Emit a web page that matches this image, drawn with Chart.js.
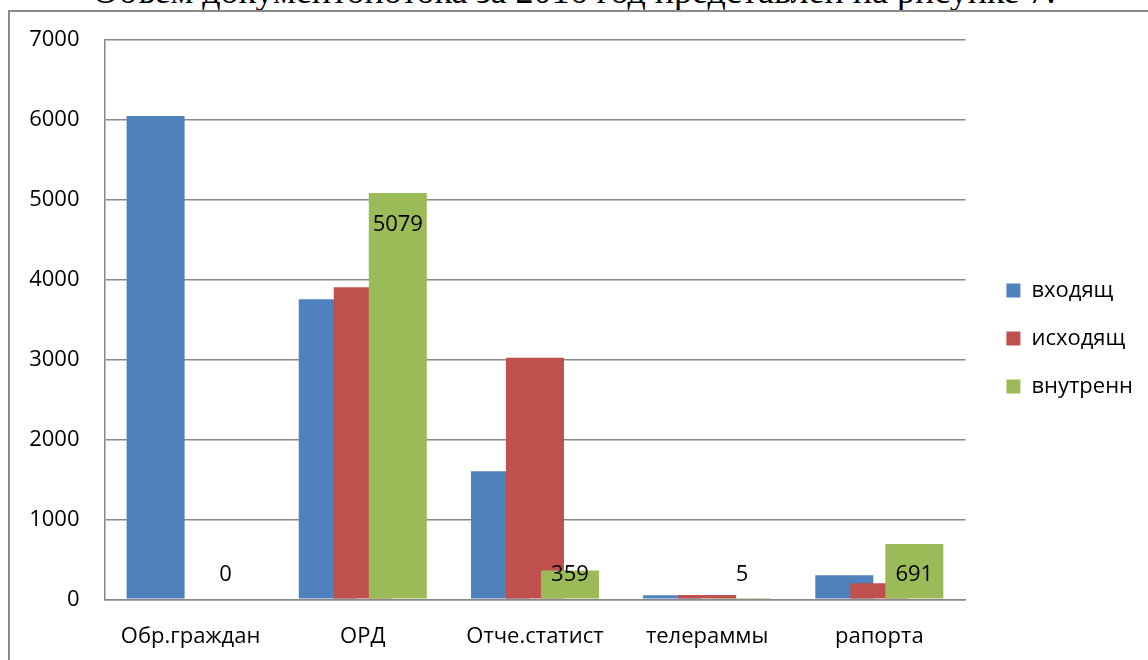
<!DOCTYPE html>
<html>
<head>
<meta charset="utf-8">
<script src="https://cdn.jsdelivr.net/npm/chart.js@4/dist/chart.umd.min.js"></script>
<style>
    body { margin: 0; background: #fff; overflow: hidden; }
    #wrap { position: relative; width: 1148px; height: 660px; overflow: hidden; }
    #caption {
        position: absolute; left: 0; top: -27px; width: 1148px;
        text-align: center; white-space: nowrap;
        font: 36px/36px "Liberation Serif", serif; color: #000;
    }
    #frame {
        position: absolute; left: 8px; top: 10px; width: 1200px; height: 700px;
        border: 2px solid #8a8a8a;
    }
    #chart { position: absolute; left: 0; top: 0; }
</style>
</head>
<body>
<div id="wrap">
    <div id="caption">Объем документопотока за 2016 год представлен на рисунке 7.</div>
    <div id="frame"></div>
    <canvas id="chart" width="1148" height="660"></canvas>
</div>
<script>
// Chart data
const categories = ['Обр.граждан', 'ОРД', 'Отче.статист', 'телераммы', 'рапорта'];
const seriesNames = ['входящ', 'исходящ', 'внутренн'];
const incoming = [6040, 3750, 1600, 50, 300];
const outgoing = [0, 3900, 3020, 55, 200];
const internal = [0, 5079, 359, 5, 691];
const yTicks = [0, 1000, 2000, 3000, 4000, 5000, 6000, 7000];

const colors = ['#4F81BD', '#C0504D', '#9BBB59'];
const fontFamily = '"Open Sans", sans-serif';

Chart.defaults.color = '#000';
Chart.defaults.font.family = fontFamily;
Chart.defaults.font.size = 22;

// Excel overlaps the bars with the later series on top,
// Chart.js paints dataset 0 last, so paint them ourselves in index order
const paintInOrder = {
    id: 'paintInOrder',
    beforeDatasetDraw() { return false; },
    afterDatasetsDraw(chart) {
        chart.data.datasets.forEach((ds, i) => {
            chart.getDatasetMeta(i).controller.draw();
        });
    }
};

// value labels for the green series (Excel "inside end" look)
const greenLabels = {
    id: 'greenLabels',
    afterDatasetsDraw(chart) {
        const ctx = chart.ctx;
        const meta = chart.getDatasetMeta(2);
        const base = chart.scales.y.getPixelForValue(0);
        ctx.save();
        ctx.font = '22px ' + fontFamily;
        ctx.fillStyle = '#000';
        ctx.textAlign = 'center';
        ctx.textBaseline = 'middle';
        meta.data.forEach((bar, i) => {
            const y = Math.min(bar.y + 32, base - 25);
            ctx.fillText(String(internal[i]), bar.x, y);
        });
        ctx.restore();
    }
};

// invisible spacer axis: keeps the plot clear of a box
function spacer(position, size) {
    return {
        position: position,
        grid: { display: false },
        border: { display: false },
        ticks: { display: false },
        afterFit(scale) {
            if (position === 'right') scale.width = size;
            else scale.height = size;
        }
    };
}

new Chart(document.getElementById('chart'), {
    type: 'bar',
    data: {
        labels: categories,
        datasets: [
            { label: seriesNames[0], data: incoming, backgroundColor: colors[0] },
            { label: seriesNames[1], data: outgoing, backgroundColor: colors[1] },
            { label: seriesNames[2], data: internal, backgroundColor: colors[2] }
        ]
    },
    options: {
        responsive: false,
        animation: false,
        devicePixelRatio: 1,
        categoryPercentage: 0.61,
        barPercentage: 1.657,
        layout: { padding: { top: 17, bottom: 0, left: 0, right: 5 } },
        scales: {
            x: {
                grid: { display: false },
                border: { color: '#888', width: 1.5 },
                ticks: { padding: 16.7, maxRotation: 0 },
                afterFit(scale) { scale.height = 60.7; }
            },
            y: {
                min: 0,
                max: 7000,
                afterBuildTicks(scale) { scale.ticks = yTicks.map(v => ({ value: v })); },
                grid: { color: '#888', lineWidth: 1.5, drawTicks: false },
                border: { color: '#888', width: 1.5 },
                ticks: { padding: 25, callback: v => String(v) },
                afterFit(scale) { scale.width = 104.5; }
            },
            gapRight: spacer('right', 15),
            gapTop: spacer('top', 22.3)
        },
        plugins: {
            legend: {
                position: 'right',
                labels: { boxWidth: 14, boxHeight: 14, padding: 26, font: { size: 22 } }
            },
            tooltip: { enabled: false }
        }
    },
    plugins: [paintInOrder, greenLabels]
});
</script>
</body>
</html>
